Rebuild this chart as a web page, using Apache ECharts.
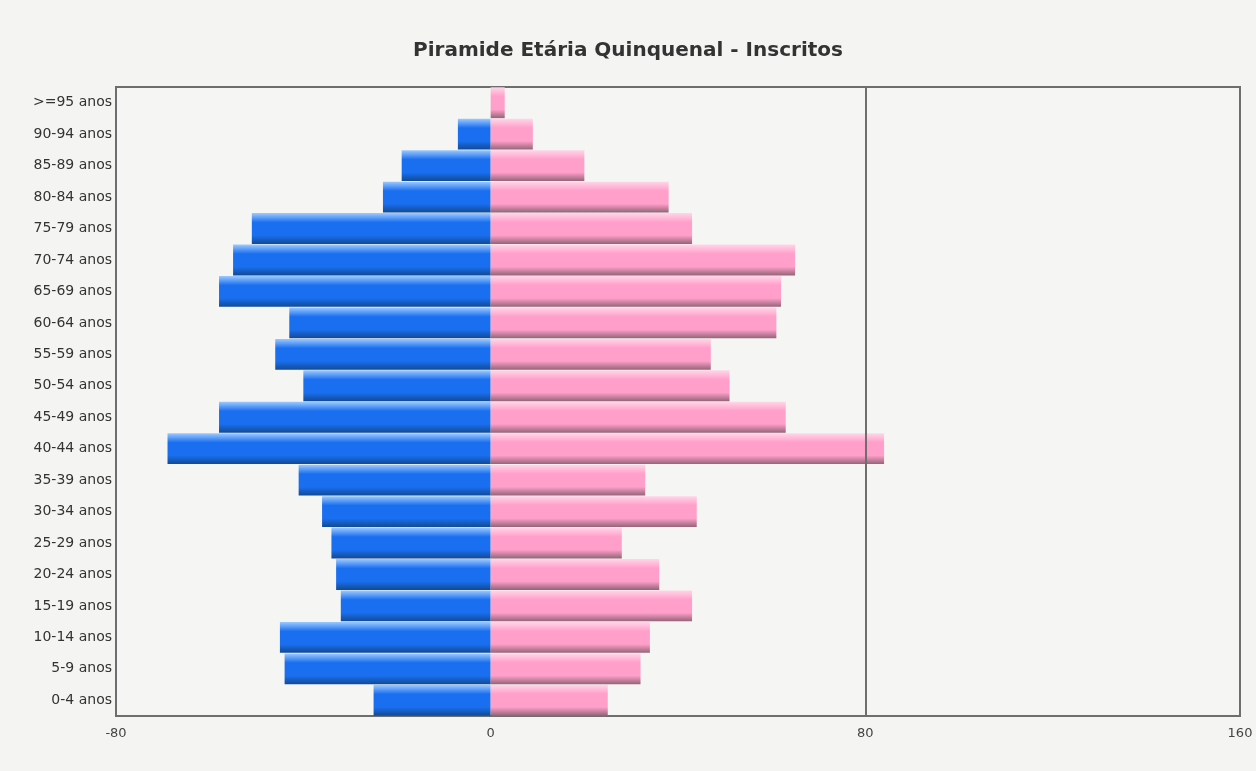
<!DOCTYPE html>
<html>
<head>
<meta charset="utf-8">
<script src="https://cdn.jsdelivr.net/npm/echarts@6/dist/echarts.min.js"></script>
<style>
  html, body { margin: 0; padding: 0; background: #f4f4f2; }
  #piramide { width: 1256px; height: 771px; }
</style>
</head>
<body>
<div id="piramide"></div>
<script type="text/javascript">
// faixas etarias (de baixo para cima)
var faixas = ['0-4 anos', '5-9 anos', '10-14 anos', '15-19 anos', '20-24 anos', '25-29 anos',
  '30-34 anos', '35-39 anos', '40-44 anos', '45-49 anos', '50-54 anos', '55-59 anos',
  '60-64 anos', '65-69 anos', '70-74 anos', '75-79 anos', '80-84 anos', '85-89 anos',
  '90-94 anos', '>=95 anos'];
// masculino (lado esquerdo, negativo)
var masculino = [-25, -44, -45, -32, -33, -34, -36, -41, -69, -58, -40, -46,
  -43, -58, -55, -51, -23, -19, -7, 0];
// feminino (lado direito)
var feminino = [25, 32, 34, 43, 36, 28, 44, 33, 84, 63, 51, 47,
  61, 62, 65, 43, 38, 20, 9, 3];
var xTicks = [-80, 0, 80, 160];

function gradiente(claro, meio, escuro) {
  return new echarts.graphic.LinearGradient(0, 0, 0, 1, [
    { offset: 0, color: claro },
    { offset: 0.3, color: meio },
    { offset: 0.72, color: meio },
    { offset: 1, color: escuro }
  ]);
}

var chart = echarts.init(document.getElementById('piramide'));
var option = {
  backgroundColor: '#f4f4f2',
  animation: false,
  title: {
    text: 'Piramide Etária Quinquenal - Inscritos',
    left: 'center',
    top: 36,
    textStyle: { fontFamily: 'DejaVu Sans', fontSize: 20, fontWeight: 'bold', color: '#333' }
  },
  grid: {
    left: 116, right: 16, top: 87, bottom: 55,
    show: true, borderColor: '#6e6e6e', borderWidth: 2, backgroundColor: '#f5f5f3'
  },
  xAxis: {
    type: 'value',
    min: -80, max: 160, interval: 80,
    axisLine: { show: false },
    axisTick: { show: false },
    splitLine: { show: false },
    axisLabel: {
      color: '#444', fontFamily: 'DejaVu Sans', fontSize: 13, margin: 11,
      formatter: function (v) { return xTicks.indexOf(v) >= 0 ? String(v) : ''; }
    }
  },
  yAxis: {
    type: 'category',
    data: faixas,
    axisLine: { show: false },
    axisTick: { show: false },
    axisLabel: { color: '#333', fontFamily: 'DejaVu Sans', fontSize: 14, margin: 4 }
  },
  series: [
    {
      name: 'Masculino',
      type: 'bar',
      data: masculino,
      barGap: '-100%',
      barCategoryGap: '2%',
      itemStyle: { color: gradiente('#9ccaff', '#1a6ff0', '#114a94') },
      markLine: {
        silent: true,
        symbol: 'none',
        label: { show: false },
        lineStyle: { color: '#6e6e6e', width: 2, type: 'solid' },
        data: [{ xAxis: 80 }]
      }
    },
    {
      name: 'Feminino',
      type: 'bar',
      data: feminino,
      barGap: '-100%',
      barCategoryGap: '2%',
      itemStyle: { color: gradiente('#ffd6e8', '#ff9fca', '#946478') }
    }
  ]
};
chart.setOption(option);
</script>
</body>
</html>
